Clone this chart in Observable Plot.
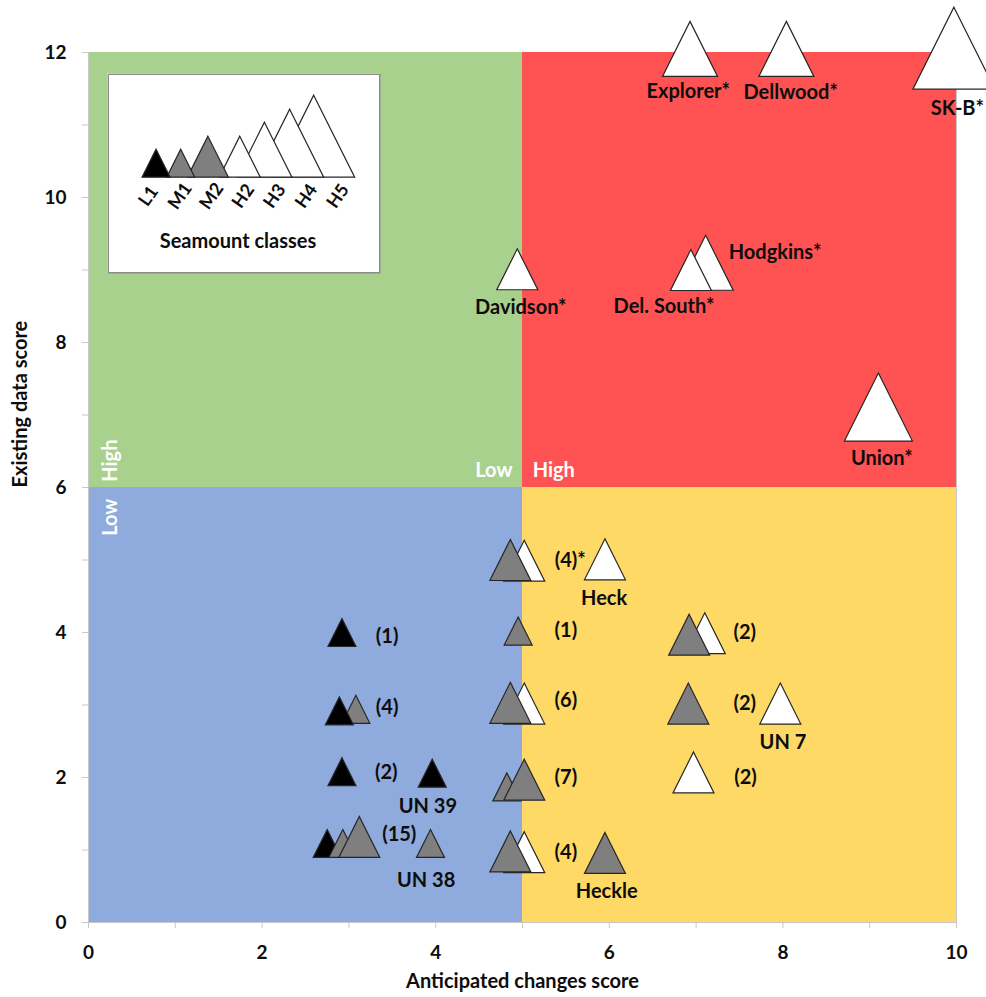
<!DOCTYPE html>
<html>
<head>
<meta charset="utf-8">
<script src="https://cdn.jsdelivr.net/npm/d3@7"></script>
<script src="https://cdn.jsdelivr.net/npm/@observablehq/plot@0.6"></script>
<style>
  html, body { margin: 0; padding: 0; background: #fff; overflow: hidden; }
  #wrap { position: relative; width: 986px; height: 997px; }
  #legend { position: absolute; left: 107px; top: 73px; }
  svg { font-family: Lato, "Open Sans", sans-serif; }
</style>
</head>
<body>
<div id="wrap"><div id="chart"></div><div id="legend"></div></div>
<script>
// ---------- data ----------
const xTicks = [0, 1, 2, 3, 4, 5, 6, 7, 8, 9, 10];
const xTickLabels = [0, 2, 4, 6, 8, 10];
const yTicks = [0, 1, 2, 3, 4, 5, 6, 7, 8, 9, 10, 11, 12];
const yTickLabels = [0, 2, 4, 6, 8, 10, 12];

const classes = ["L1", "M1", "M2", "H2", "H3", "H4", "H5"];

// quadrants (anticipated changes x existing data)
const quadrantNames = ["lowHigh", "highHigh", "lowLow", "highLow"];
const quadrantX1 = [0, 5, 0, 5];
const quadrantX2 = [5, 10, 5, 10];
const quadrantY1 = [6, 6, 0, 0];
const quadrantY2 = [12, 12, 6, 6];

// seamounts (in drawing order)
const seamountX = [6.93, 8.04, 9.97, 4.94, 7.11, 6.94, 9.10,
  5.02, 4.86, 5.95, 4.95, 7.10, 6.92, 5.02, 4.86, 6.91, 7.97,
  4.82, 5.02, 6.97, 5.02, 4.86, 5.95,
  2.92, 3.08, 2.89, 2.92, 3.96, 2.75, 2.93, 3.12, 3.94];
const seamountY = [12.05, 12.05, 12.06, 9.01, 9.10, 9.00, 7.11,
  4.99, 5.00, 5.01, 4.02, 3.99, 3.97, 3.02, 3.03, 3.02, 3.02,
  1.87, 1.97, 2.07, 0.97, 0.98, 0.96,
  4.00, 2.94, 2.92, 2.08, 2.06, 1.09, 1.09, 1.18, 1.09];
const seamountClass = ["H3", "H3", "H5", "H2", "H3", "H2", "H4",
  "H2", "M2", "H2", "M1", "H2", "M2", "H2", "M2", "M2", "H2",
  "M1", "M2", "H2", "H2", "M2", "M2",
  "L1", "M1", "L1", "L1", "L1", "L1", "M1", "M2", "M1"];

// text labels
const labelText = ["Explorer*", "Dellwood*", "SK-B*", "Davidson*", "Del. South*", "Hodgkins*", "Union*",
  "(4)*", "Heck", "(1)", "(2)", "(6)", "(2)", "UN 7", "(7)", "(2)", "(4)", "Heckle",
  "(1)", "(4)", "(2)", "UN 39", "(15)", "UN 38"];
const labelX = [6.91, 8.09, 10.01, 4.98, 6.63, 7.91, 9.14,
  5.55, 5.94, 5.50, 7.56, 5.50, 7.56, 8.00, 5.50, 7.57, 5.50, 5.97,
  3.44, 3.44, 3.43, 3.91, 3.58, 3.89];
const labelY = [11.46, 11.45, 11.22, 8.48, 8.50, 9.24, 6.40,
  4.99, 4.47, 4.03, 4.00, 3.06, 3.02, 2.48, 2.00, 2.00, 0.97, 0.43,
  3.94, 2.97, 2.07, 1.60, 1.21, 0.58];

// quadrant axis words
const hWords = ["Low", "High"];
const hWordX = [4.67, 5.36];
const hWordY = [6.23, 6.23];
const vWords = ["High", "Low"];
const vWordX = [0.25, 0.25];
const vWordY = [6.37, 5.59];

// legend: label slots 0..6, triangle centres
const legendTriangleX = [0.24, 1.02, 1.88, 2.89, 3.67, 4.47, 5.23];

// ---------- styles ----------
const quadrantFill = {lowHigh: "#A9D18E", highHigh: "#FF5252", lowLow: "#8FAADC", highLow: "#FFD966"};
const classFill = {L1: "#000000", M1: "#7F7F7F", M2: "#7F7F7F", H2: "#FFFFFF", H3: "#FFFFFF", H4: "#FFFFFF", H5: "#FFFFFF"};
const classHalf = {L1: 14, M1: 14, M2: 20.5, H2: 20.5, H3: 27.5, H4: 34, H5: 41};
const font = "Lato, 'Open Sans', sans-serif";

// build tables
const quadrants = quadrantNames.map((n, i) => ({n, x1: quadrantX1[i], x2: quadrantX2[i], y1: quadrantY1[i], y2: quadrantY2[i]}));
const seamounts = seamountX.map((x, i) => ({x, y: seamountY[i], c: seamountClass[i]}));
const labels = labelText.map((t, i) => ({t, x: labelX[i], y: labelY[i]}));
const hw = hWords.map((t, i) => ({t, x: hWordX[i], y: hWordY[i]}));
const vw = vWords.map((t, i) => ({t, x: vWordX[i], y: vWordY[i]}));

// triangle symbols (height = width), centred on the point or sitting on it
const triCentered = {draw(ctx, size) { const r = Math.sqrt(size / Math.PI); ctx.moveTo(0, -r); ctx.lineTo(r, r); ctx.lineTo(-r, r); ctx.closePath(); }};
const triBase = {draw(ctx, size) { const r = Math.sqrt(size / Math.PI); ctx.moveTo(0, -2 * r); ctx.lineTo(r, 0); ctx.lineTo(-r, 0); ctx.closePath(); }};

const textStyle = {fontSize: 20, fontWeight: "bold", fill: "#0d0d0d", fontFamily: font};

const chart = Plot.plot({
  width: 986, height: 997,
  marginLeft: 88, marginRight: 30, marginTop: 52, marginBottom: 75,
  x: {domain: [0, 10], label: null},
  y: {domain: [0, 12], label: null},
  r: {type: "identity"},
  style: {fontFamily: font, background: "white", overflow: "visible"},
  marks: [
    Plot.rect(quadrants, {x1: "x1", x2: "x2", y1: "y1", y2: "y2", fill: d => quadrantFill[d.n]}),
    Plot.ruleX([0, 10], {stroke: "#c8c8c8", strokeWidth: 1}),
    Plot.ruleY([0], {stroke: "#c8c8c8", strokeWidth: 1}),
    Plot.axisX(xTicks, {tickSize: 6, tickFormat: () => "", stroke: "#c8c8c8"}),
    Plot.axisY(yTicks, {tickSize: 6, tickFormat: () => "", stroke: "#c8c8c8"}),
    Plot.axisX(xTickLabels, {tickSize: 0, tickPadding: 23, tickFormat: d => String(d), fontSize: 19, fontWeight: "bold", color: "#0d0d0d", fontFamily: font}),
    Plot.axisY(yTickLabels, {tickSize: 0, tickPadding: 22, tickFormat: d => String(d), fontSize: 19, fontWeight: "bold", color: "#0d0d0d", fontFamily: font}),
    Plot.text(["Anticipated changes score"], {frameAnchor: "bottom", dy: 65, ...textStyle}),
    Plot.text(["Existing data score"], {frameAnchor: "left", dx: -68, rotate: -90, ...textStyle}),
    Plot.text(hw, {x: "x", y: "y", text: "t", ...textStyle, fill: "white"}),
    Plot.text(vw, {x: "x", y: "y", text: "t", rotate: -90, ...textStyle, fill: "white"}),
    Plot.dot(seamounts, {x: "x", y: "y", r: d => classHalf[d.c], symbol: triCentered,
      fill: d => classFill[d.c], stroke: "#262626", strokeWidth: 1.2, sort: null}),
    Plot.text(labels, {x: "x", y: "y", text: "t", ...textStyle})
  ]
});
document.getElementById("chart").appendChild(chart);

// ---------- inset legend ----------
const legendRows = classes.map((c, i) => ({c, i, tx: legendTriangleX[i]}));
const legend = Plot.plot({
  width: 273, height: 200,
  marginLeft: 0, marginRight: 0, marginTop: 0, marginBottom: 0,
  x: {domain: [0, 6], range: [41, 230.5], label: null, axis: null},
  y: {domain: [0, 1], range: [103.7, 0], label: null, axis: null},
  r: {type: "identity"},
  style: {fontFamily: font, background: "white", overflow: "visible"},
  marks: [
    Plot.frame({stroke: "#8c8c8c", strokeWidth: 1.5, inset: 0.75}),
    Plot.dot(legendRows.slice().reverse(), {x: "tx", y: () => 0, r: d => classHalf[d.c], symbol: triBase,
      fill: d => classFill[d.c], stroke: "#262626", strokeWidth: 1.2, sort: null}),
    Plot.text(legendRows, {x: "i", y: () => 0, dy: 19, rotate: -55, text: "c", fontSize: 18, fontWeight: "bold", fill: "#0d0d0d", fontFamily: font}),
    Plot.text(["Seamount classes"], {frameAnchor: "bottom", dy: -26, dx: -6, ...textStyle})
  ]
});
document.getElementById("legend").appendChild(legend);
</script>
</body>
</html>
